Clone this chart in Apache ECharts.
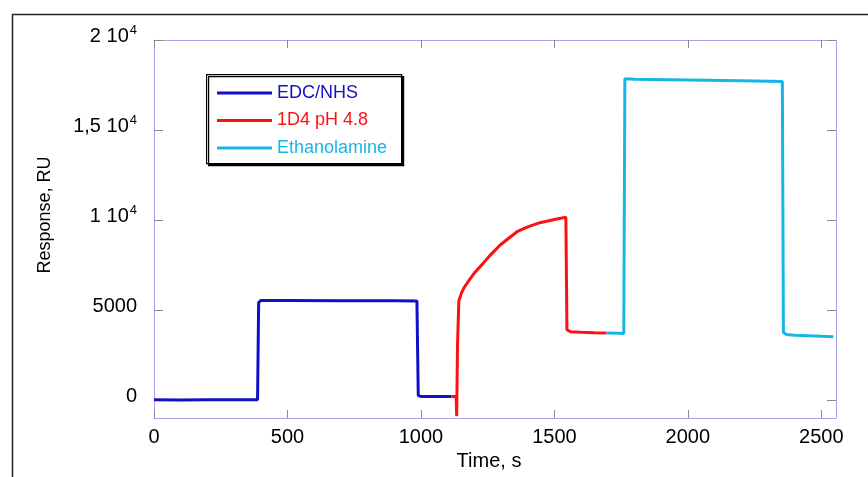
<!DOCTYPE html>
<html>
<head>
<meta charset="utf-8">
<script src="https://cdn.jsdelivr.net/npm/echarts@6/dist/echarts.min.js"></script>
<style>
html,body{margin:0;padding:0;background:#fff;}
#chart{width:868px;height:477px;}
</style>
</head>
<body>
<div id="chart"></div>
<script>
// Series data: [time (s), response (RU)]
var edcNhs = [[0,10],[100,5],[200,10],[300,15],[388,20],[392,5400],[400,5530],[500,5530],[700,5520],[900,5510],[985,5500],[990,250],[1000,200],[1114,190]];
var d14 = [[1114,190],[1132,190],[1134,-900],[1137,3000],[1142,5500],[1152,5950],[1162,6250],[1180,6650],[1200,7050],[1233,7590],[1260,8050],[1296,8600],[1330,9000],[1360,9350],[1400,9620],[1446,9850],[1500,10030],[1543,10150],[1547,3900],[1560,3790],[1600,3760],[1650,3730],[1695,3720]];
var ethanolamine = [[1695,3720],[1740,3710],[1760,3700],[1764,17850],[1800,17820],[2000,17780],[2200,17730],[2354,17690],[2358,3750],[2370,3640],[2400,3600],[2500,3540],[2545,3520]];
var seriesNames = ['EDC/NHS','1D4 pH 4.8','Ethanolamine'];
var seriesColors = ['#1010c8','#ff1010','#18b6e8'];
var xTicks = [0,500,1000,1500,2000,2500];
var yTicks = [0,5000,10000,15000,20000];
var yTickLabels = ['0','5000','1 10^4','1,5 10^4','2 10^4'];

var chart = echarts.init(document.getElementById('chart'));
var font = 'Liberation Sans, Arial, Helvetica, sans-serif';
var axisLineColor = '#a4a4ee';
var tickStyle = {color:'#8a8a8a', width:1};

function yFmt(v){
  var i = yTicks.indexOf(v);
  if (i < 0) return '';
  var s = yTickLabels[i];
  var p = s.split('^');
  if (p.length === 2) return '{n|' + p[0] + '}{s|' + p[1] + '}';
  return '{n|' + s + '}';
}

var datasets = [edcNhs, d14, ethanolamine];
var series = datasets.map(function(d, i){
  return {
    name: seriesNames[i], type:'line', data: d, showSymbol:false, symbol:'none',
    lineStyle:{color: seriesColors[i], width:3}, itemStyle:{color: seriesColors[i]},
    z: 3 + i, animation:false
  };
});

chart.setOption({
  animation:false,
  backgroundColor:'#fff',
  textStyle:{fontFamily:font},
  grid:{left:154, right:32, top:40, bottom:59, containLabel:false},
  legend:{
    orient:'vertical', left:217, top:84,
    padding:0, itemGap:9.5,
    itemWidth:55, itemHeight:3, icon:'rect',
    textStyle:{fontSize:18, fontFamily:font},
    data: seriesNames.map(function(n,i){ return {name:n, textStyle:{color: seriesColors[i]}}; })
  },
  xAxis:[{
    type:'value', min:0, max:2555, position:'bottom',
    name:'Time, s', nameLocation:'middle', nameGap:33,
    nameTextStyle:{fontSize:20, color:'#000', fontFamily:font, padding:[0,12,0,0]},
    axisLine:{show:true, onZero:false, lineStyle:{color:axisLineColor, width:1}},
    axisTick:{show:true, inside:true, length:8, lineStyle:tickStyle, customValues:xTicks},
    axisLabel:{fontSize:20, color:'#000', margin:9, fontFamily:font, customValues:xTicks,
      formatter:function(v){ return String(v); }},
    splitLine:{show:false}
  },{
    type:'value', min:0, max:2555, position:'top',
    axisLine:{show:true, onZero:false, lineStyle:{color:axisLineColor, width:1}},
    axisTick:{show:true, inside:true, length:8, lineStyle:tickStyle, customValues:xTicks},
    axisLabel:{show:false}, splitLine:{show:false}
  }],
  yAxis:[{
    type:'value', min:-1000, max:20000, position:'left',
    name:'Response, RU', nameLocation:'middle', nameGap:100, nameRotate:90,
    nameTextStyle:{fontSize:18, color:'#000', fontFamily:font, padding:[0,0,0,28]},
    axisLine:{show:true, onZero:false, lineStyle:{color:axisLineColor, width:1}},
    axisTick:{show:true, inside:true, length:9, lineStyle:tickStyle, customValues:yTicks},
    axisLabel:{
      margin:17, color:'#000', customValues:yTicks, formatter:yFmt, padding:[0,0,7,0],
      rich:{
        n:{fontSize:20, color:'#000', fontFamily:font},
        s:{fontSize:13, color:'#000', fontFamily:font, padding:[0,0,12,1]}
      }
    },
    splitLine:{show:false}
  },{
    type:'value', min:-1000, max:20000, position:'right',
    axisLine:{show:true, onZero:false, lineStyle:{color:axisLineColor, width:1}},
    axisTick:{show:true, inside:true, length:9, lineStyle:tickStyle, customValues:yTicks},
    axisLabel:{show:false}, splitLine:{show:false}
  }],
  graphic:[{
    type:'rect', left:10, top:12, silent:true, z:-10,
    shape:{width:900, height:500},
    style:{fill:null, stroke:'#222', lineWidth:1.5}
  },{
    type:'rect', left:206, top:74, silent:true, z:1,
    shape:{width:195, height:89},
    style:{fill:'#fff', stroke:'#000', lineWidth:1.2, shadowColor:'#000', shadowBlur:0, shadowOffsetX:2, shadowOffsetY:2}
  }],
  series: series
});
</script>
</body>
</html>
